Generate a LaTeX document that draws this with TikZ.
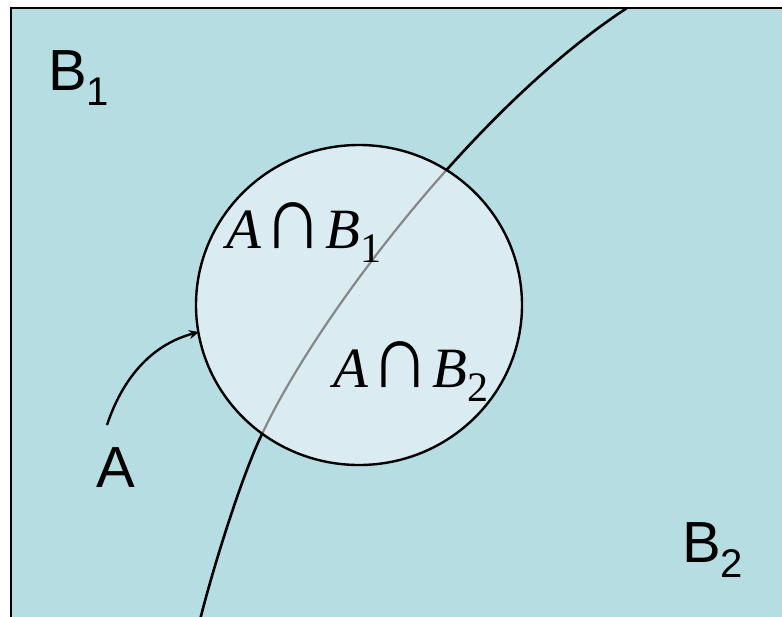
\documentclass[tikz,border=0pt]{standalone}
\usepackage{graphicx}
\usepackage{fontspec}
\setmainfont{Liberation Sans}
\newfontfamily\lserif{Liberation Serif}
\usetikzlibrary{arrows.meta,shapes.geometric}
\definecolor{outerfill}{RGB}{182,221,226}
\definecolor{innerfill}{RGB}{218,236,241}
\definecolor{midgray}{RGB}{135,135,135}
\tikzset{
  biglabel/.style={anchor=base west,inner sep=0pt,font=\fontsize{58}{60}\selectfont},
  mathlabel/.style={anchor=base west,inner sep=0pt,font=\lserif\fontsize{57}{60}\selectfont},
  boundary/.style={line width=2.6pt},
}
\newcommand{\subnum}[1]{\raisebox{-15pt}{\fontsize{40}{40}\selectfont #1}}
\newcommand{\msub}[1]{\raisebox{-14pt}{\fontsize{42}{42}\selectfont #1}}
\newcommand{\mycap}{\scalebox{1.45}[1.6]{∩}}
\begin{document}
\begin{tikzpicture}[x=1pt,y=-1pt]
\useasboundingbox (0,0) rectangle (782,616);
\clip (0,0) rectangle (782,616);
% universe box
\draw[line width=2.6pt,fill=outerfill] (11,8) rectangle (800,640);
% partition curve (outside circle: black)
\def\partcurve{(627,8) .. controls (477,106) and (318,316) .. (263,432) .. controls (243,472) and (213.5,566) .. (200,620)}
\draw[boundary] \partcurve;
% circle A
\node[ellipse,draw=none,fill=innerfill,minimum width=326pt,minimum height=320pt,inner sep=0pt] (circA) at (359,305) {};
\begin{scope}
  \clip (359,305) ellipse [x radius=163pt,y radius=160pt];
  \draw[line width=2.2pt,midgray] \partcurve;
\end{scope}
\node[ellipse,draw,line width=2.4pt,minimum width=326pt,minimum height=320pt,inner sep=0pt] (circAb) at (359,305) {};
% arrow from label A to circle
\coordinate (arrowstart) at (107,425);
\coordinate (arrowend) at (199,332);
\draw[line width=2.4pt,-{Stealth[length=10pt,width=9pt]}] (arrowstart) .. controls (122,380) and (150,345) .. (arrowend);
% labels
\node[biglabel] (lB1) at (48,90) {B\subnum{1}};
\node[biglabel] (lA) at (96,487) {A};
\node[biglabel] (lB2) at (682,562) {B\subnum{2}};
\node[mathlabel] (lAB1) at (226,248) {\textit{A}\kern2pt\mycap\kern3pt\textit{B}\msub{1}};
\node[mathlabel] (lAB2) at (333,387) {\textit{A}\kern2pt\mycap\kern3pt\textit{B}\msub{2}};
\end{tikzpicture}
\end{document}
